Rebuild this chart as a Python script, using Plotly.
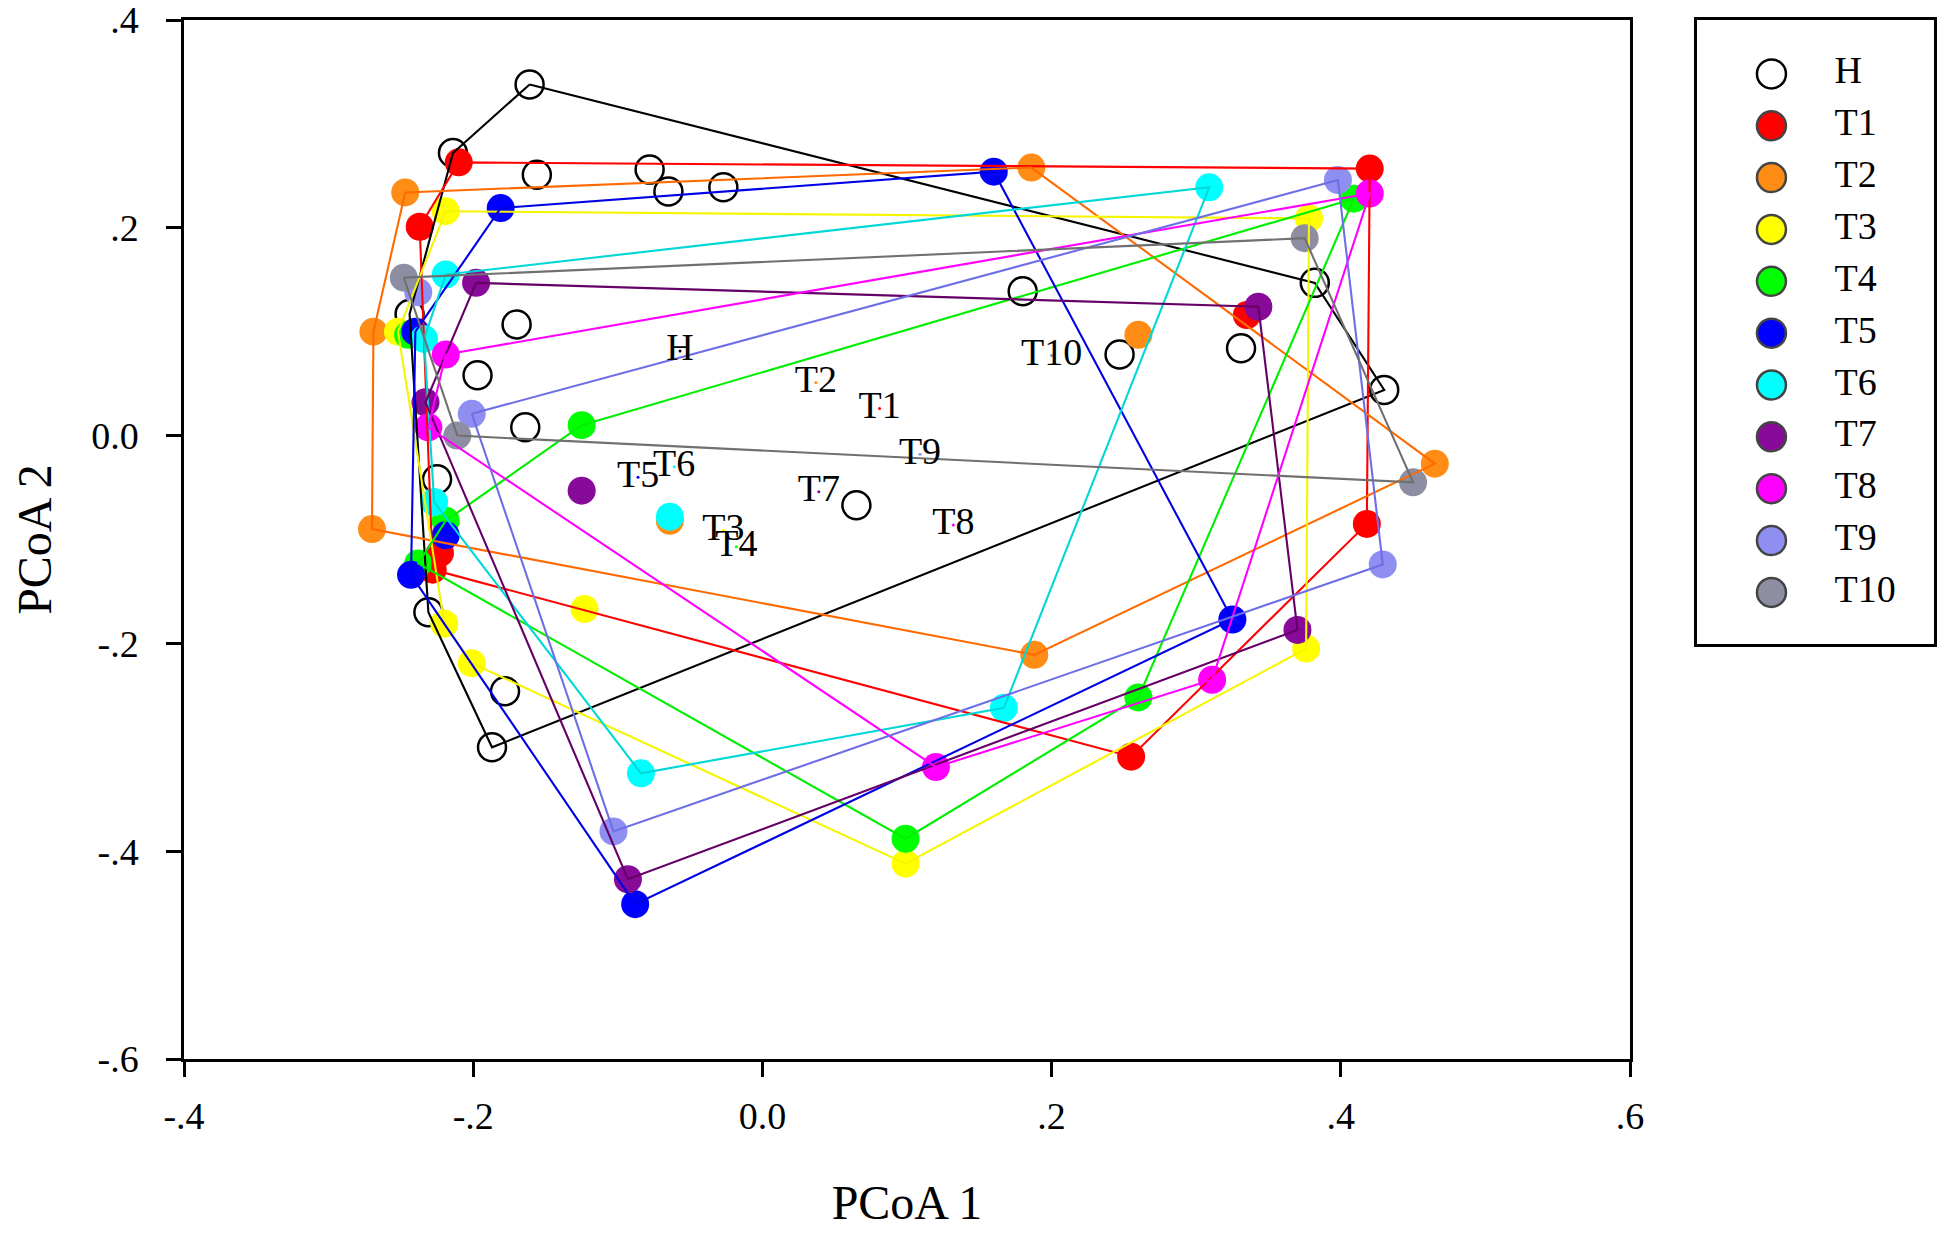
import plotly.graph_objects as go

# groups and colours
groups = ["H", "T1", "T2", "T3", "T4", "T5", "T6", "T7", "T8", "T9", "T10"]
dot_colors = ["#000000", "#ff0000", "#ff8c14", "#ffff00", "#00ff00", "#0000ff",
              "#00ffff", "#880a98", "#ff00ff", "#8f8ff2", "#8e8ea2"]
line_colors = ["#000000", "#ff0000", "#ff6a00", "#f5f500", "#00ee00", "#0000e6",
               "#00d8d8", "#660066", "#ff00ff", "#6e6ee6", "#707070"]

h_x = [-0.161, -0.214, -0.156, -0.078, -0.065, -0.027, 0.180, 0.382, 0.247, 0.331,
       0.430, -0.170, -0.197, -0.164, -0.225, -0.231, -0.178, -0.187, 0.065, -0.244]
h_y = [0.338, 0.272, 0.251, 0.256, 0.235, 0.239, 0.139, 0.147, 0.078, 0.084,
       0.044, 0.107, 0.058, 0.008, -0.042, -0.170, -0.246, -0.300, -0.067, 0.117]
h_outline = [0, 7, 10, 17, 15, 19, 1, 0]

t1_x = [-0.210, 0.420, -0.237, 0.335, 0.418, 0.255, -0.223, -0.228]
t1_y = [0.263, 0.257, 0.201, 0.116, -0.085, -0.309, -0.113, -0.129]
t1_outline = [1, 4, 5, 7, 2, 0, 1]

t2_x = [-0.247, 0.186, -0.269, 0.260, 0.465, -0.270, 0.188, -0.064]
t2_y = [0.234, 0.258, 0.100, 0.097, -0.027, -0.090, -0.211, -0.082]
t2_outline = [0, 1, 4, 6, 5, 2, 0]

t3_x = [-0.219, 0.378, -0.252, -0.123, -0.220, -0.201, 0.099, 0.376]
t3_y = [0.216, 0.209, 0.100, -0.167, -0.181, -0.219, -0.412, -0.205]
t3_outline = [0, 1, 7, 6, 5, 4, 2, 0]

t4_x = [-0.125, 0.409, -0.219, -0.238, 0.099, 0.260, -0.245]
t4_y = [0.010, 0.228, -0.082, -0.123, -0.388, -0.252, 0.097]
t4_outline = [0, 1, 5, 4, 3, 2, 0]

t5_x = [-0.181, 0.160, -0.240, -0.219, -0.243, 0.325, -0.088]
t5_y = [0.219, 0.254, 0.100, -0.096, -0.134, -0.177, -0.451]
t5_outline = [0, 1, 5, 6, 4, 2, 0]

t6_x = [-0.219, 0.309, -0.234, -0.227, -0.064, -0.084, 0.167]
t6_y = [0.155, 0.239, 0.093, -0.064, -0.078, -0.325, -0.262]
t6_outline = [0, 1, 6, 5, 3, 2, 0]

t7_x = [-0.198, 0.343, -0.233, -0.125, 0.370, -0.093]
t7_y = [0.147, 0.124, 0.032, -0.053, -0.187, -0.427]
t7_outline = [0, 1, 4, 5, 2, 0]

t8_x = [-0.219, 0.420, -0.231, 0.120, 0.311]
t8_y = [0.078, 0.233, 0.008, -0.319, -0.235]
t8_outline = [0, 1, 4, 3, 2, 0]

t9_x = [-0.238, 0.398, -0.201, 0.429, -0.103]
t9_y = [0.138, 0.246, 0.021, -0.124, -0.381]
t9_outline = [2, 1, 3, 4, 2]

t10_x = [-0.248, 0.375, 0.450, -0.211]
t10_y = [0.152, 0.190, -0.045, 0.000]
t10_outline = [0, 1, 2, 3, 0]

# group centroid labels
label_x = [-0.057, 0.081, 0.037, -0.027, -0.018, -0.086, -0.061, 0.039, 0.132, 0.109, 0.200]
label_y = [0.0815, 0.026, 0.051, -0.091, -0.107, -0.040, -0.030, -0.054, -0.086, -0.018, 0.077]

x_ticks = [-0.4, -0.2, 0.0, 0.2, 0.4, 0.6]
x_ticktext = ["-.4", "-.2", "0.0", ".2", ".4", ".6"]
y_ticks = [-0.6, -0.4, -0.2, 0.0, 0.2, 0.4]
y_ticktext = ["-.6", "-.4", "-.2", "0.0", ".2", ".4"]

FONT = "Liberation Serif, Times New Roman, serif"

sets = [(h_x, h_y, h_outline), (t1_x, t1_y, t1_outline), (t2_x, t2_y, t2_outline),
        (t3_x, t3_y, t3_outline), (t4_x, t4_y, t4_outline), (t5_x, t5_y, t5_outline),
        (t6_x, t6_y, t6_outline), (t7_x, t7_y, t7_outline), (t8_x, t8_y, t8_outline),
        (t9_x, t9_y, t9_outline), (t10_x, t10_y, t10_outline)]


def group_marker(name, color, size):
    if name == "H":
        return dict(symbol="circle-open", size=size, color="black", line=dict(width=2.5))
    return dict(symbol="circle", size=size, color=color, line=dict(width=0))


fig = go.Figure()

# points first, outlines drawn over them
for name, (xs, ys, _), dcol in zip(groups, sets, dot_colors):
    fig.add_trace(go.Scatter(x=xs, y=ys, mode="markers", name=name,
                             marker=group_marker(name, dcol, 28),
                             showlegend=False, hoverinfo="skip"))

for name, (xs, ys, outline), lcol in zip(groups, sets, line_colors):
    fig.add_trace(go.Scatter(x=[xs[i] for i in outline], y=[ys[i] for i in outline],
                             mode="lines", line=dict(color=lcol, width=2.1),
                             showlegend=False, hoverinfo="skip"))

# centroids: tiny dot plus group name
fig.add_trace(go.Scatter(x=label_x, y=label_y, mode="markers+text", text=groups,
                         textposition="middle center",
                         textfont=dict(family=FONT, size=38, color="black"),
                         marker=dict(size=3, color=dot_colors),
                         showlegend=False, hoverinfo="skip"))

# boxed key on its own little axes
key_y = list(range(len(groups)))
fig.add_trace(go.Scatter(x=[0.314] * len(groups), y=key_y, mode="markers",
                         marker=dict(size=29, color=["black"] + dot_colors[1:],
                                     symbol=["circle-open"] + ["circle"] * (len(groups) - 1),
                                     line=dict(width=2.5)),
                         xaxis="x2", yaxis="y2", showlegend=False, hoverinfo="skip"))
fig.add_trace(go.Scatter(x=[0.58] * len(groups), y=key_y, mode="text", text=groups,
                         textposition="middle right",
                         textfont=dict(family=FONT, size=38, color="black"),
                         xaxis="x2", yaxis="y2", showlegend=False, hoverinfo="skip"))

axis_common = dict(showgrid=False, zeroline=False, showline=True, linecolor="black",
                   linewidth=2.5, mirror=True, ticks="outside", ticklen=15, tickwidth=2.5,
                   tickcolor="black", ticklabeloverflow="allow", automargin=False,
                   tickfont=dict(family=FONT, size=38, color="black"))

# page body has an 8px margin, so the figure is 8px smaller and margins shifted
fig.update_layout(
    width=1942, height=1247,
    margin=dict(l=176, r=16, t=9, b=196),
    paper_bgcolor="white", plot_bgcolor="white",
    font=dict(family=FONT, color="black"),
    xaxis=dict(range=[-0.4, 0.6], domain=[0, 0.8263], tickvals=x_ticks,
               ticktext=x_ticktext, ticklabelstandoff=7,
               title=dict(text="PCoA 1", font=dict(family=FONT, size=48), standoff=50),
               **axis_common),
    yaxis=dict(range=[-0.6, 0.4], domain=[0, 1], tickvals=y_ticks,
               ticktext=y_ticktext, ticklabelstandoff=20,
               title=dict(text="PCoA 2", font=dict(family=FONT, size=48), standoff=27),
               **axis_common),
    xaxis2=dict(domain=[0.8646, 1.0], range=[0, 1], anchor="y2", showgrid=False,
                zeroline=False, showticklabels=False, ticks="", showline=True,
                linecolor="black", linewidth=2.5, mirror=True, fixedrange=True),
    yaxis2=dict(domain=[0.3992, 1.0], range=[11.0, -1.04], anchor="x2", showgrid=False,
                zeroline=False, showticklabels=False, ticks="", showline=True,
                linecolor="black", linewidth=2.5, mirror=True, fixedrange=True),
)

fig.write_html("out.html")
